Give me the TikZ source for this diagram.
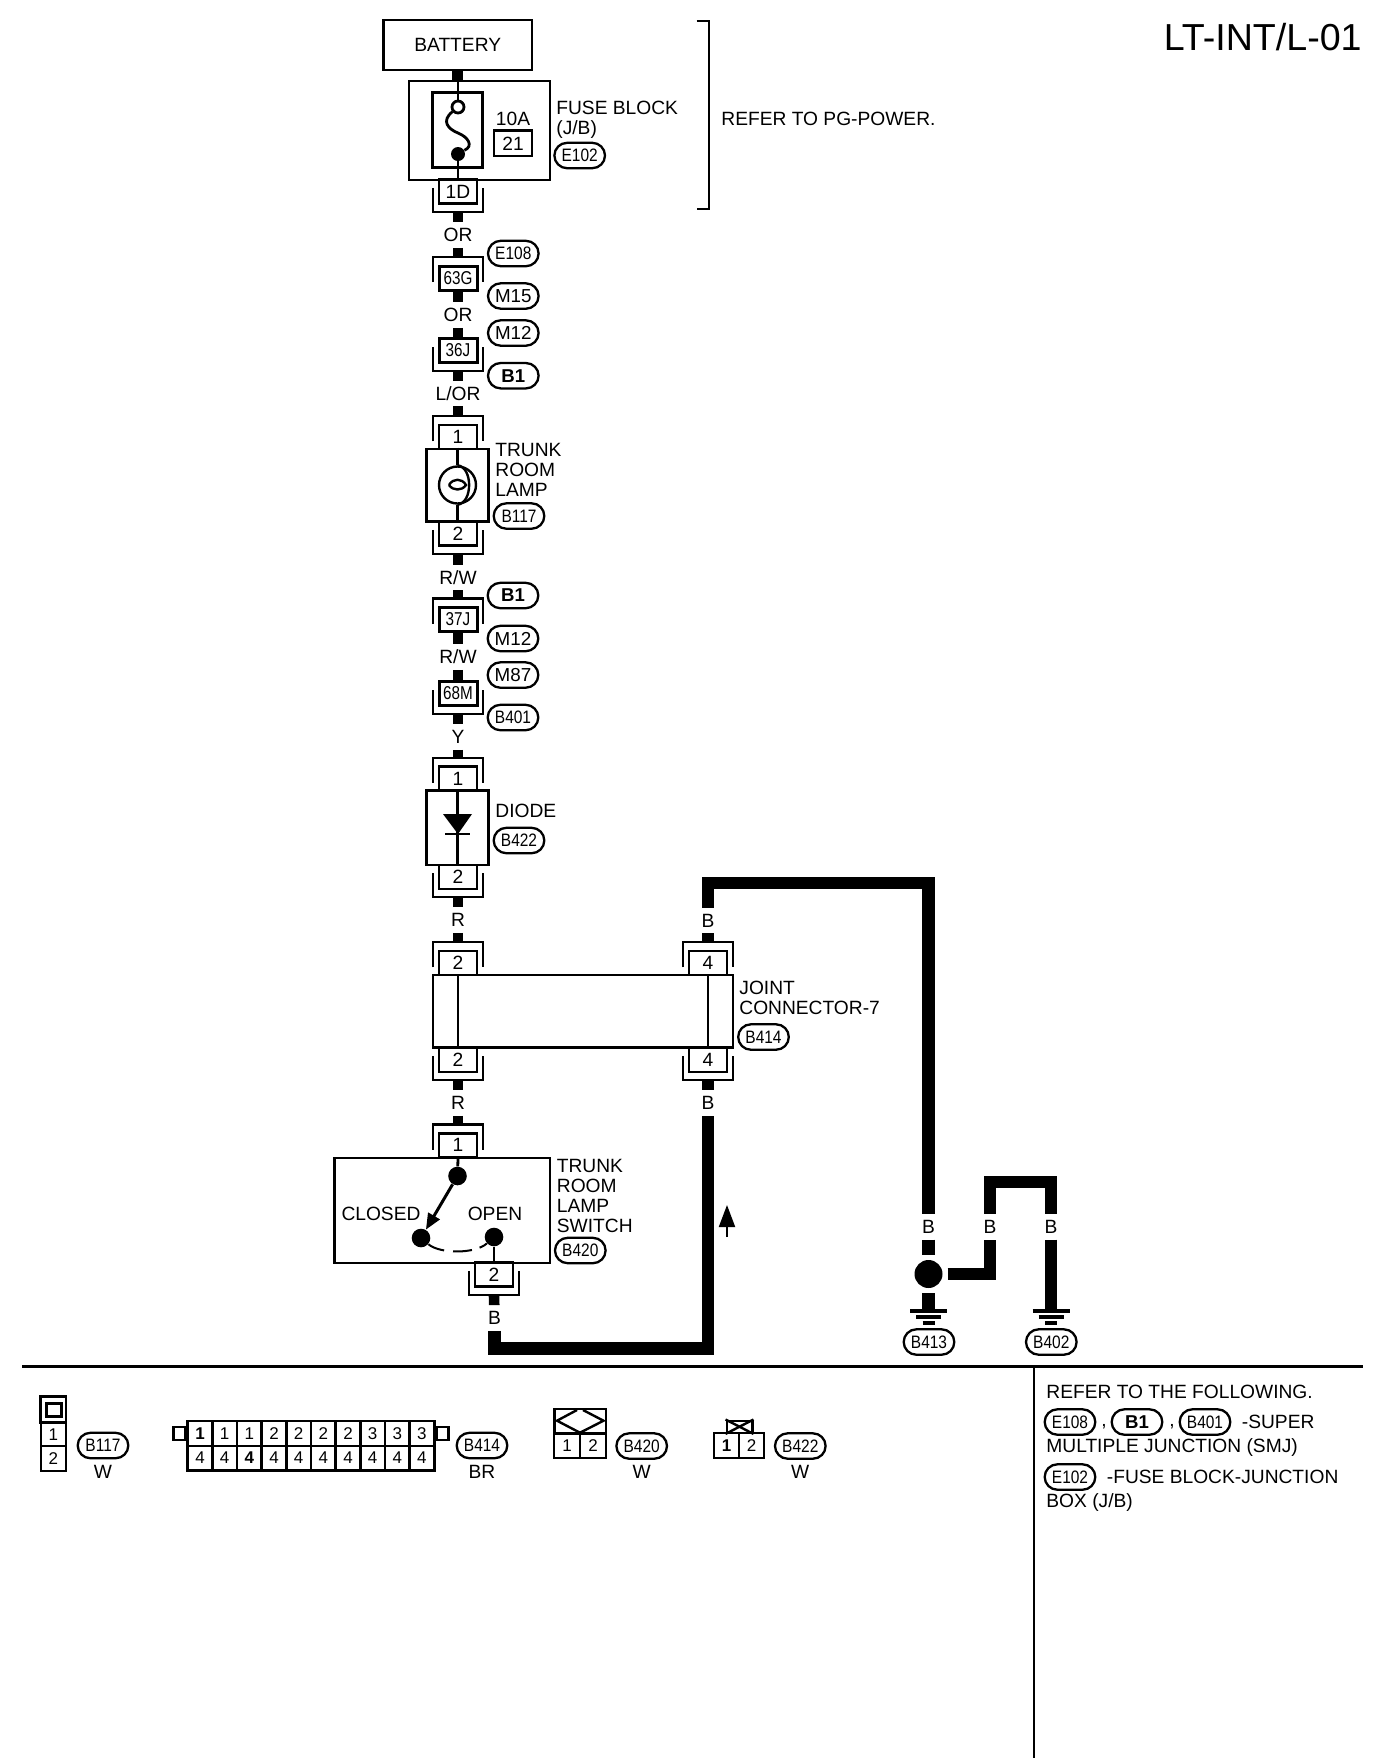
\documentclass[tikz,border=0pt]{standalone}
\usepackage{fontspec}
\setmainfont{Liberation Sans}
\newfontfamily\tagfont[FakeStretch=0.86]{Liberation Sans}
\newfontfamily\smjfont[FakeStretch=0.82]{Liberation Sans}
\usepackage{tikz}
\usetikzlibrary{shapes.misc,arrows.meta,positioning,calc}

% shell of a connector, open towards the component
\newcommand{\shellbelow}[1]{
    \draw[shell] (#1.south) +(-25,-17) -- +(-25,7) -- +(25,7) -- +(25,-17);
    \coordinate (#1out) at ([shift={(0,7)}]#1.south);
}
\newcommand{\shellabove}[1]{
    \draw[shell] (#1.north) +(-25,17.5) -- +(-25,-7.5) -- +(25,-7.5) -- +(25,17.5);
    \coordinate (#1out) at ([shift={(0,-7.5)}]#1.north);
}
% ground symbol
\newcommand{\gndbars}[1]{
    \draw[gndbar] (#1) +(-18.5,0) -- +(18.5,0);
    \draw[gndbar] (#1) +(-12.5,6) -- +(12.5,6);
    \draw[gndbar] (#1) +(-6,12) -- +(6,12);
}

\begin{document}
\begin{tikzpicture}[
    x=0.5pt, y=-0.5pt,
    txt/.style={inner sep=0pt, font=\fontsize{9.6}{10}\selectfont},
    sidetxt/.style={txt, anchor=north west, align=left},
    box/.style={rectangle, draw, line width=1.25pt, inner sep=0pt, font=\fontsize{9.6}{10}\selectfont},
    comp/.style={box, minimum width=30.8pt, minimum height=36.35pt},
    pin/.style={box, minimum width=19pt, minimum height=12pt},
    smjpin/.style={pin, line width=1.5pt, font=\smjfont\fontsize{9.3}{10}\selectfont},
    shell/.style={line width=1.1pt},
    wlabel/.style={inner sep=0pt, minimum height=12.5pt, font=\fontsize{9.6}{10}\selectfont},
    wire/.style={line width=5.3pt},
    bwire/.style={line width=6.3pt},
    thin/.style={line width=1.4pt},
    gndbar/.style={line width=1.7pt},
    dot/.style={circle, fill=black, inner sep=0pt, minimum size=9.3pt},
    tag/.style={rounded rectangle, draw, line width=1.15pt, inner sep=0pt, minimum width=25.3pt, minimum height=12.7pt, font=\tagfont\fontsize{9}{10}\selectfont},
    tagbig/.style={tag, font=\fontsize{9.4}{10}\selectfont},
    tagbold/.style={tag, font=\fontsize{9.3}{10}\selectfont\bfseries},
    cell/.style={box, line width=1.1pt, minimum width=12.5pt, minimum height=12.4pt, font=\fontsize{8.5}{9}\selectfont}
]
    \useasboundingbox (0,0) rectangle (1392,1758);
    \node[font=\fontsize{18.8}{20}\selectfont, inner sep=0pt, anchor=east] (title) at (1362,37) {LT-INT/L-01};

    % Fuse block
    \node[box, minimum width=74.3pt, minimum height=25pt] (battery) at (457.7,45) {BATTERY};
    \node[box, minimum width=70.5pt, minimum height=49.5pt] (fuse) at (479.5,130.5) {};
    \node[box, minimum width=24.8pt, minimum height=37.5pt] (fuseinner) at (457.5,130.2) {};
    \node[circle, draw, thin, inner sep=0pt, minimum size=6pt] (fo) at (458,107) {};
    \node[circle, fill=black, inner sep=0pt, minimum size=7pt] (fs) at (458,154) {};
    \node[txt] (amp) at (513,119) {10A};
    \node[box, minimum width=19.2pt, minimum height=12.7pt] (fnum) at (513,143.3) {21};
    \node[sidetxt] (fusetxt) at (556,100.5) {FUSE BLOCK\\(J/B)};
    \node[tag] (e102) at (579.7,155.5) {E102};
    \draw[wire] (battery) -- (battery |- fuse.north);
    \draw[thin] (fo |- fuse.north) -- (fo);
    \draw[thin] (fs) -- (fs |- fuse.south);
    \draw[thin] (fo.220) .. controls (441,121) and (448,129) .. (458,133) .. controls (468,137) and (474,146) .. (fs.30);
    \draw[line width=1.2pt] (696.7,20.7) -- (709,20.7) -- (709,209) -- (696.7,209);
    \node[txt, anchor=west] (refpg) at (721,119) {REFER TO PG-POWER.};

    % Connectors down to the lamp
    \node[pin] (p1d) at (458,191.5) {1D};
    \shellbelow{p1d}
    \node[wlabel] (or1) at (458,235) {OR};
    \node[smjpin] (p63g) at (458,278) {63G};
    \shellabove{p63g}
    \node[wlabel] (or2) at (458,315) {OR};
    \node[smjpin] (p36j) at (458,350.5) {36J};
    \shellbelow{p36j}
    \node[wlabel] (lor) at (458,393.5) {L/OR};
    \node[tag] (e108) at (513.3,253.5) {E108};
    \node[tagbig] (m15) at (513.3,296) {M15};
    \node[tagbig] (m12a) at (513.3,333) {M12};
    \node[tagbold] (b1a) at (513.3,375.7) {B1};
    \draw[wire] (p1dout) -- (or1);
    \draw[wire] (or1) -- (p63gout);
    \draw[wire] (p63g) -- (or2);
    \draw[wire] (or2) -- (p36j);
    \draw[wire] (p36jout) -- (lor);

    % Trunk room lamp
    \node[pin] (lamp1) at (458,437) {1};
    \shellabove{lamp1}
    \node[comp] (lampbox) at (457.5,485.3) {};
    \node[circle, draw, line width=1.2pt, inner sep=0pt, minimum size=18.5pt] (lamp) at (457.5,485) {};
    \node[pin] (lamp2) at (458,533.7) {2};
    \shellbelow{lamp2}
    \node[sidetxt] (lamptxt) at (495,442.5) {TRUNK\\ROOM\\LAMP};
    \node[tag] (b117) at (519,516) {B117};
    \draw[wire] (lor) -- (lamp1out);
    \draw[thin] (lampbox.north) -- (lamp.north);
    \draw[thin] (lamp.south) -- (lampbox.south);
    \draw[line width=1.2pt] (lamp.north) .. controls (473,467) and (473,503) .. (lamp.south);
    \draw[line width=1.2pt] (449,485) .. controls (453,478) and (462,478) .. (466,485) .. controls (462,491) and (453,491) .. (449,485);

    % Connectors down to the diode
    \node[wlabel] (rw1) at (458,577.5) {R/W};
    \node[smjpin] (p37j) at (458,619.5) {37J};
    \shellabove{p37j}
    \node[wlabel] (rw2) at (458,657) {R/W};
    \node[smjpin] (p68m) at (458,693.5) {68M};
    \shellbelow{p68m}
    \node[wlabel] (ylw) at (458,737) {Y};
    \node[tagbold] (b1b) at (513,595.5) {B1};
    \node[tagbig] (m12b) at (513,638.5) {M12};
    \node[tagbig] (m87) at (513,675) {M87};
    \node[tag] (b401) at (513,717.5) {B401};
    \draw[wire] (lamp2out) -- (rw1);
    \draw[wire] (rw1) -- (p37jout);
    \draw[wire] (p37j) -- (rw2);
    \draw[wire] (rw2) -- (p68m);
    \draw[wire] (p68mout) -- (ylw);

    % Diode
    \node[pin] (diode1) at (458,778.7) {1};
    \shellabove{diode1}
    \node[comp, minimum height=37.15pt] (diodebox) at (457.5,827.8) {};
    \node[pin] (diode2) at (458,877) {2};
    \shellbelow{diode2}
    \node[sidetxt] (diodetxt) at (495,803.5) {DIODE};
    \node[tag] (b422) at (519,840.5) {B422};
    \draw[wire] (ylw) -- (diode1out);
    \draw[thin] (diodebox.north) -- (diodebox.south);
    \fill (443,814) -- (472,814) -- (458,834) -- cycle;
    \draw[thin] (445,834) -- (470,834);

    % Joint connector
    \node[wlabel] (rd1) at (458,920) {R};
    \node[wlabel] (bk1) at (708,920.5) {B};
    \node[pin] (j2t) at (458,963) {2};
    \node[pin] (j4t) at (708,963) {4};
    \shellabove{j2t}
    \shellabove{j4t}
    \node[box, minimum width=150.15pt, minimum height=36.35pt] (joint) at (582.9,1011.3) {};
    \node[pin] (j2b) at (458,1060) {2};
    \node[pin] (j4b) at (708,1060) {4};
    \shellbelow{j2b}
    \shellbelow{j4b}
    \node[wlabel] (rd2) at (458,1103) {R};
    \node[wlabel] (bk2) at (708,1103) {B};
    \node[sidetxt] (jointtxt) at (739,981) {JOINT\\CONNECTOR-7};
    \node[tag] (b414) at (763.5,1037) {B414};
    \draw[wire] (diode2out) -- (rd1);
    \draw[wire] (rd1) -- (j2tout);
    \draw[bwire] (bk1) -- (j4tout);
    \draw[thin] (j2t.south) -- (j2b.north);
    \draw[thin] (j4t.south) -- (j4b.north);
    \draw[wire] (j2bout) -- (rd2);
    \draw[bwire] (j4bout) -- (bk2);

    % Lamp switch
    \node[pin] (sw1) at (458,1145.3) {1};
    \shellabove{sw1}
    \node[box, minimum width=107.85pt, minimum height=52.35pt] (switch) at (442.2,1210.4) {};
    \node[pin] (sw2) at (494,1274.7) {2};
    \shellbelow{sw2}
    \node[dot] (swcom) at (457.5,1176) {};
    \node[dot] (swclosed) at (421,1238) {};
    \node[dot] (swopen) at (494,1237) {};
    \node[txt] (closed) at (381,1214) {CLOSED};
    \node[txt] (open) at (495,1214) {OPEN};
    \node[sidetxt] (switchtxt) at (556.5,1158.5) {TRUNK\\ROOM\\LAMP\\SWITCH};
    \node[tag] (b420) at (580.3,1250.5) {B420};
    \node[wlabel] (bk3) at (494.5,1318) {B};
    \draw[wire] (rd2) -- (sw1out);
    \draw[thin] (sw1.south) -- (swcom);
    \draw[thin] (swopen) -- (swopen |- switch.south);
    \draw[line width=1.5pt, -{Triangle[length=8pt,width=6.5pt]}] (swcom) -- (swclosed);
    \draw[line width=1pt, dash pattern=on 8.5pt off 4.5pt on 9.5pt off 4pt on 15pt] (swclosed) .. controls (440,1254) and (475,1254) .. (swopen);
    \draw[wire] (sw2out) -- (bk3);

    % Ground wires (solid, thick)
    \coordinate (c1) at (494.5,1348.5);
    \coordinate (c2) at (708,1348.5);
    \coordinate (c3) at (708,883);
    \coordinate (c4) at (928.5,883);
    \node[wlabel] (bk4) at (928.5,1226.7) {B};
    \node[wlabel] (bk5) at (990,1226.7) {B};
    \node[wlabel] (bk6) at (1051,1226.7) {B};
    \node[circle, fill=black, inner sep=0pt, minimum size=14pt, outer sep=2.5pt] (gjoin) at (928.5,1274) {};
    \coordinate (gnd1) at (928.5,1311);
    \coordinate (gnd2) at (1051,1311);
    \coordinate (c5) at (990,1274);
    \coordinate (c6) at (990,1182);
    \coordinate (c7) at (1051,1182);
    \coordinate (tip) at (727,1205);
    \coordinate (tail) at (727,1237);
    \node[tag] (b413) at (929,1342) {B413};
    \node[tag] (b402) at (1051.3,1342) {B402};
    \draw[bwire] (bk3) -- (c1) -- (c2) -- (bk2);
    \draw[bwire] (bk1) -- (c3) -- (c4) -- (bk4);
    \draw[bwire] (bk4) -- (gjoin);
    \draw[bwire] (gjoin) -- (gnd1);
    \draw[bwire] (gjoin) -- (c5) -- (bk5);
    \draw[bwire] (bk5) -- (c6) -- (c7) -- (bk6);
    \draw[bwire] (bk6) -- (gnd2);
    \gndbars{gnd1}
    \gndbars{gnd2}
    \draw[line width=1pt, -{Triangle[length=11pt,width=8pt]}] (tail) -- (tip);

    % Rules
    \coordinate (rulel) at (22,1366);
    \coordinate (ruler) at (1363,1366);
    \coordinate (divt) at (1034,1366);
    \coordinate (divb) at (1034,1758);
    \draw[line width=1.5pt] (rulel) -- (ruler);
    \draw[line width=1pt] (divt) -- (divb);

    % Connector faces
    \node[box, line width=1.3pt, minimum width=12.65pt, minimum height=13pt] (k1) at (53.3,1409.7) {};
    \node[rectangle, draw, line width=1.5pt, inner sep=0pt, minimum width=7.2pt, minimum height=6.5pt] (k1key) at (53.8,1409.5) {};
    \node[cell, minimum width=12.65pt, minimum height=11.6pt] (k1c1) at (53.3,1434.4) {1};
    \node[cell, minimum width=12.65pt, minimum height=12.5pt] (k1c2) at (53.3,1458.5) {2};
    \node[tag] (kb117) at (103,1445.5) {B117};
    \node[txt] (kw1) at (103,1471.7) {W};

    \foreach \n/\t [count=\i] in {1/\textbf{1},2/1,3/1,4/2,5/2,6/2,7/2,8/3,9/3,10/3}
        \node[cell] (kt\n) at ({187.7+24.66*(\i-0.5)},1433.4) {\t};
    \foreach \n/\t [count=\i] in {1/4,2/4,3/\textbf{4},4/4,5/4,6/4,7/4,8/4,9/4,10/4}
        \node[cell] (kb\n) at ({187.7+24.66*(\i-0.5)},1458) {\t};
    \node[box, minimum width=5.8pt, minimum height=6.6pt, anchor=east] (ktabl) at (kt1.west |- 0,1433.4) {};
    \node[box, minimum width=5.8pt, minimum height=6.6pt, anchor=west] (ktabr) at (kt10.east |- 0,1433.4) {};
    \node[tag] (kb414) at (482,1445.5) {B414};
    \node[txt] (kbr) at (482,1471.7) {BR};

    \node[box, minimum width=25.85pt, minimum height=12.15pt] (k3top) at (580.2,1421.2) {};
    \node[cell, minimum width=12.9pt, minimum height=12.5pt] (k3c1) at (567.2,1445.8) {1};
    \node[cell, minimum width=12.9pt, minimum height=12.5pt] (k3c2) at (593,1445.8) {2};
    \draw[line width=1.2pt] (577,1410) -- (557,1420.7) -- (580,1432.7) -- (603.5,1420.7) -- (583,1410);
    \node[tag] (kb420) at (641.7,1446) {B420};
    \node[txt] (kw3) at (641.7,1471.7) {W};

    \node[box, line width=1.2pt, minimum width=12.8pt, minimum height=6pt] (k4top) at (739.5,1426.7) {};
    \draw[line width=1.2pt] (k4top.north west) -- (k4top.south east);
    \draw[line width=1.2pt] (k4top.north east) -- (k4top.south west);
    \node[cell, minimum width=12.5pt, minimum height=12.8pt] (k4c1) at (726.5,1445.5) {\textbf{1}};
    \node[cell, minimum width=12.5pt, minimum height=12.8pt] (k4c2) at (751.7,1445.5) {2};
    \node[tag] (kb422) at (800.3,1446) {B422};
    \node[txt] (kw4) at (800.3,1471.7) {W};

    % Notes
    \node[txt, anchor=west] (note1) at (1046,1392) {REFER TO THE FOLLOWING.};
    \node[tag] (ne108) at (1070,1422) {E108};
    \node[txt] (ncomma1) at (1104,1427) {,};
    \node[tagbold] (nb1) at (1137,1422) {B1};
    \node[txt] (ncomma2) at (1172,1427) {,};
    \node[tag] (nb401) at (1205,1422) {B401};
    \node[txt, anchor=west] (note2) at (1241.5,1422) {-SUPER};
    \node[txt, anchor=west] (note3) at (1046,1447.5) {MULTIPLE JUNCTION (SMJ)};
    \node[tag] (ne102) at (1070,1477) {E102};
    \node[txt, anchor=west] (note4) at (1106.5,1477) {-FUSE BLOCK-JUNCTION};
    \node[txt, anchor=west] (note5) at (1046,1502.5) {BOX (J/B)};
\end{tikzpicture}
\end{document}
